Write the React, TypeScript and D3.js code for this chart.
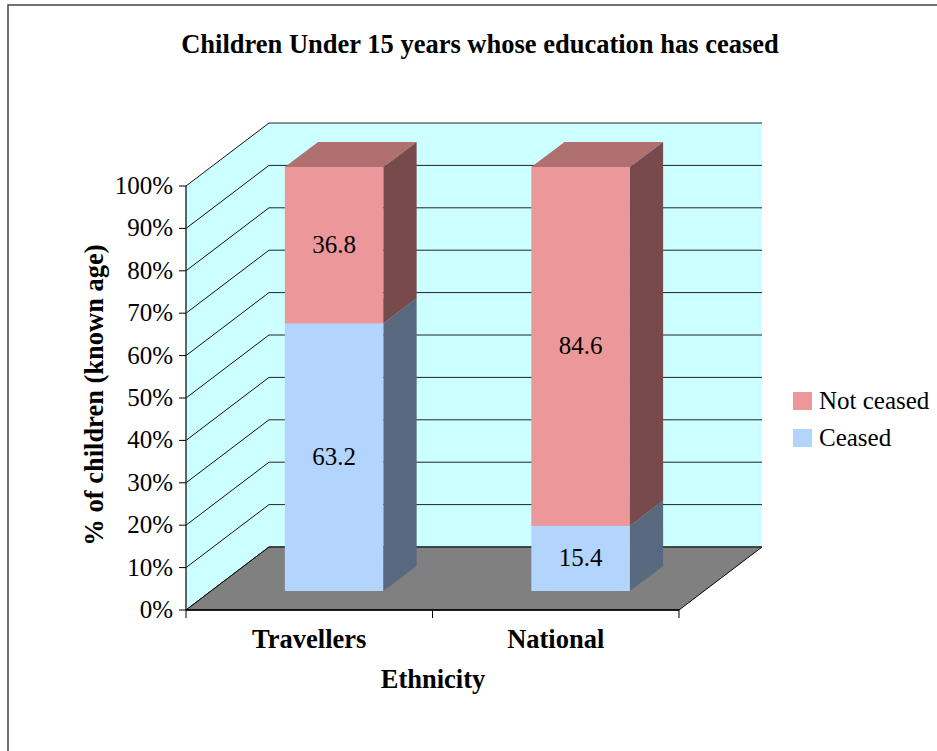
import React from "react";
import { scaleLinear, scaleBand, range } from "d3";

const categories = ["Travellers", "National"];
const ceased = [63.2, 15.4];
const notCeased = [36.8, 84.6];
const seriesNames = ["Not ceased", "Ceased"];
const yTicks = range(0, 101, 10);

const W = 937;
const H = 751;
// front plane of the 3d box
const left = 186;
const right = 679;
const bottom = 610;
const top = 186;
// depth offset of the back wall
const DX = 83;
const DY = 63;
const z0 = 0.3;
const z1 = 0.7;

const reg = { fontFamily: '"Liberation Serif"', fontSize: 25 };
const bold = { fontFamily: '"Liberation Serif"', fontSize: 26.5, fontWeight: "bold" as const };

const colors = {
  notCeased: { front: "#ec9799", top: "#b07070", side: "#774a4b" },
  ceased: { front: "#b3d4fd", top: "#8aa4c4", side: "#58687f" },
};

const App: React.FC = () => {
  const y = scaleLinear().domain([0, 100]).range([bottom, top]);
  const x = scaleBand<string>().domain(categories).range([left, right]).paddingInner(0).paddingOuter(0);
  const bw = x.bandwidth() * 0.4;

  const pt = (px: number, py: number, z: number) => `${px + z * DX},${py - z * DY}`;

  const segments: any[] = [];
  categories.forEach((c, i) => {
    const cx = (x(c) as number) + x.bandwidth() / 2;
    const x0 = cx - bw / 2;
    const x1 = cx + bw / 2;
    const parts = [
      { v0: 0, v1: ceased[i], col: colors.ceased, val: ceased[i] },
      { v0: ceased[i], v1: ceased[i] + notCeased[i], col: colors.notCeased, val: notCeased[i] },
    ];
    parts.forEach((p, j) => {
      const ya = y(p.v0);
      const yb = y(p.v1);
      segments.push(
        <g key={`${i}-${j}`}>
          <polygon points={[pt(x0, ya, z0), pt(x1, ya, z0), pt(x1, yb, z0), pt(x0, yb, z0)].join(" ")} fill={p.col.front} />
          <polygon points={[pt(x0, yb, z0), pt(x1, yb, z0), pt(x1, yb, z1), pt(x0, yb, z1)].join(" ")} fill={p.col.top} />
          <polygon points={[pt(x1, ya, z0), pt(x1, ya, z1), pt(x1, yb, z1), pt(x1, yb, z0)].join(" ")} fill={p.col.side} />
          <text x={cx + z0 * DX} y={(ya + yb) / 2 - z0 * DY + 8} textAnchor="middle" style={reg}>
            {p.val.toFixed(1)}
          </text>
        </g>
      );
    });
  });

  return (
    <svg width={W} height={H} style={{ position: "absolute", left: 0, top: 0 }}>
      <rect x={0} y={0} width={W} height={H} fill="#fff" />
      <rect x={8} y={5} width={W + 20} height={H + 20} fill="none" stroke="#444" strokeWidth={1.5} />

      <text x={480} y={53} textAnchor="middle" style={bold}>
        Children Under 15 years whose education has ceased
      </text>

      {/* walls */}
      <polygon
        points={`${left},${bottom} ${left},${y(100)} ${left + DX},${y(100) - DY} ${left + DX},${bottom - DY}`}
        fill="#ccffff"
      />
      <rect x={left + DX} y={y(100) - DY} width={right - left} height={bottom - y(100)} fill="#ccffff" />

      {/* gridlines */}
      {yTicks.map((t) => (
        <g key={t}>
          <line x1={left} y1={y(t)} x2={left + DX} y2={y(t) - DY} stroke="#111" strokeWidth={1} />
          <line x1={left + DX} y1={y(t) - DY} x2={right + DX} y2={y(t) - DY} stroke="#222" strokeWidth={1} />
        </g>
      ))}

      {/* floor */}
      <polygon
        points={`${left},${bottom} ${right},${bottom} ${right + DX},${bottom - DY} ${left + DX},${bottom - DY}`}
        fill="#808080"
        stroke="#000"
        strokeWidth={1}
      />

      {segments}

      {/* axes */}
      <line x1={left} y1={y(100)} x2={left} y2={bottom} stroke="#333" strokeWidth={1.5} />
      <line x1={left} y1={bottom} x2={right} y2={bottom} stroke="#000" strokeWidth={1.5} />
      {yTicks.map((t) => (
        <g key={`yt${t}`}>
          <line x1={left - 7} y1={y(t)} x2={left} y2={y(t)} stroke="#000" />
          <text x={173} y={y(t) + 8} textAnchor="end" style={reg}>
            {t}%
          </text>
        </g>
      ))}
      {[left, left + x.bandwidth(), right].map((tx) => (
        <line key={`xt${tx}`} x1={tx} y1={bottom} x2={tx} y2={bottom + 8} stroke="#000" />
      ))}
      {categories.map((c) => (
        <text key={c} x={(x(c) as number) + x.bandwidth() / 2} y={648} textAnchor="middle" style={bold}>
          {c}
        </text>
      ))}
      <text x={433} y={688} textAnchor="middle" style={bold}>
        Ethnicity
      </text>
      <text transform="translate(103,395) rotate(-90)" textAnchor="middle" style={bold}>
        % of children (known age)
      </text>

      {/* legend */}
      {seriesNames.map((s, i) => (
        <g key={s} transform={`translate(793,${392 + i * 37})`}>
          <rect width={19} height={18} fill={i === 0 ? colors.notCeased.front : colors.ceased.front} />
          <text x={26} y={17} style={reg}>
            {s}
          </text>
        </g>
      ))}
    </svg>
  );
};

export default App;
